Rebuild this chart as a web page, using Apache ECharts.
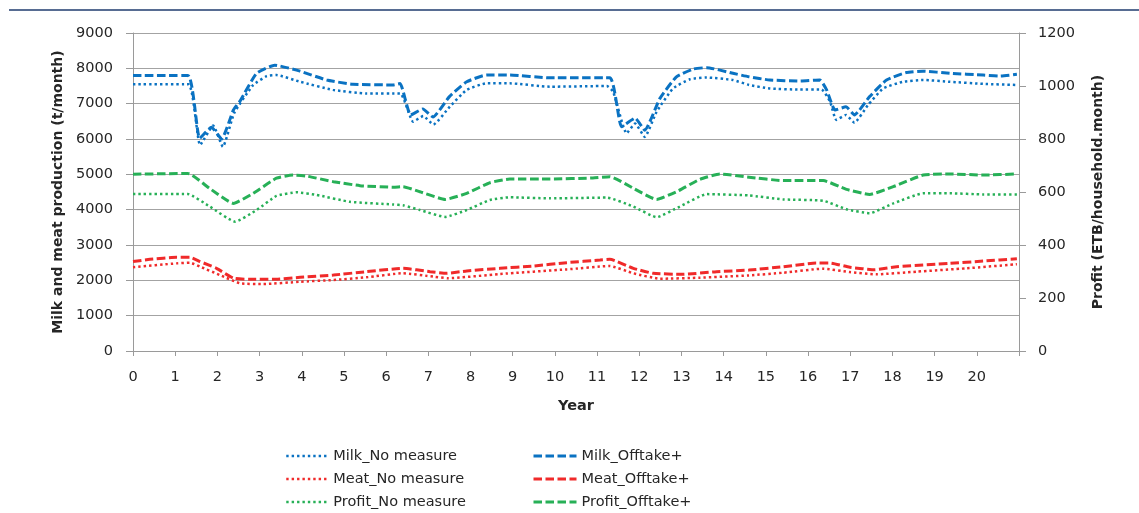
<!DOCTYPE html>
<html>
<head>
<meta charset="utf-8">
<script src="https://cdn.jsdelivr.net/npm/echarts@6/dist/echarts.min.js"></script>
<style>
  html, body { margin: 0; padding: 0; background: #ffffff; }
  #chart { width: 1139px; height: 513px; }
</style>
</head>
<body>
<div id="chart"></div>
<script>
// Milk and meat production (t/month) and household profit (ETB/household.month) by year

const yearTicks = [0, 21];
const productionTicks = [0, 9000, 1000];
const profitTicks = [0, 1200, 200];

// [year, t/month]
const milkNoMeasure = [
  [0,7550],[1.31,7550],[1.59,5830],[1.9,6380],[2.13,5780],[2.4,6740],[2.85,7530],[3.17,7780],
  [3.4,7810],[3.96,7620],[4.74,7390],[5.53,7290],[6.33,7290],[6.64,6490],[6.88,6650],[7.12,6410],
  [7.51,6915],[7.91,7390],[8.38,7575],[8.93,7575],[9.88,7480],[11.23,7500],[11.38,7340],[11.7,6160],
  [11.9,6440],[12.13,6060],[12.41,6770],[12.8,7430],[13.2,7690],[13.6,7740],[14.22,7670],[14.6,7530],
  [15.09,7430],[15.8,7400],[16.32,7400],[16.52,7060],[16.67,6540],[16.9,6680],[17.1,6460],[17.42,6960],
  [17.78,7430],[18.25,7620],[18.73,7670],[19.36,7620],[20.15,7560],[20.95,7530]
];
const milkOfftake = [
  [0,7800],[1.3,7800],[1.58,6020],[1.86,6330],[2.1,6000],[2.38,6820],[2.54,7080],[2.93,7860],
  [3.36,8090],[3.96,7920],[4.59,7670],[5.21,7550],[6.16,7530],[6.33,7570],[6.58,6680],[6.87,6850],
  [7.11,6620],[7.5,7200],[7.91,7620],[8.38,7810],[8.93,7810],[9.88,7730],[11.3,7730],[11.58,6350],
  [11.9,6590],[12.13,6250],[12.49,7150],[12.88,7760],[13.28,7980],[13.6,8020],[14.22,7860],[14.6,7760],
  [15.09,7670],[15.8,7640],[16.28,7670],[16.44,7390],[16.64,6820],[16.9,6910],[17.1,6680],[17.46,7200],
  [17.86,7670],[18.33,7880],[18.73,7920],[19.36,7860],[20.15,7810],[20.55,7780],[20.95,7830]
];
const meatNoMeasure = [
  [0,2370],[1.03,2480],[1.35,2500],[1.59,2385],[2.06,2150],[2.54,1915],[3.09,1895],[3.96,1960],
  [4.75,2010],[5.53,2085],[6.4,2200],[7.12,2105],[7.47,2060],[8.7,2180],[10.28,2310],[11.3,2405],
  [11.86,2200],[12.49,2045],[13.44,2075],[14.6,2140],[15.41,2215],[16.36,2330],[16.99,2235],[17.62,2170],
  [18.57,2245],[19.75,2340],[20.95,2455]
];
const meatOfftake = [
  [0,2530],[0.4,2595],[1.03,2650],[1.35,2650],[1.59,2530],[1.98,2340],[2.38,2060],[2.77,2030],
  [3.32,2030],[3.96,2085],[4.75,2150],[5.53,2245],[6.4,2340],[7.04,2245],[7.43,2200],[7.91,2265],
  [8.7,2340],[9.49,2405],[10.28,2500],[11.07,2575],[11.3,2595],[11.86,2340],[12.33,2200],[13.04,2170],
  [13.83,2245],[14.6,2290],[15.41,2385],[16.2,2490],[16.52,2490],[16.99,2370],[17.58,2300],[18.1,2385],
  [19.36,2480],[20.15,2545],[20.95,2610]
];
// [year, ETB/household.month]
const profitNoMeasure = [
  [0,592],[1.3,592],[1.82,545],[2.42,488],[2.93,532],[3.4,585],[3.88,599],[4.35,589],
  [5.14,563],[6.17,553],[6.4,550],[6.8,532],[7.4,506],[7.91,532],[8.46,570],[8.93,580],
  [9.88,576],[11.23,579],[11.86,545],[12.41,505],[12.96,545],[13.6,592],[14.6,587],[15.41,572],
  [16.36,567],[16.91,535],[17.46,520],[18.02,557],[18.73,595],[19.36,595],[20.15,591],[20.95,591]
];
const profitOfftake = [
  [0,667],[1.3,670],[1.82,613],[2.38,557],[2.85,595],[3.4,652],[3.8,664],[4.12,660],
  [4.75,639],[5.38,624],[6.17,618],[6.4,620],[6.8,601],[7.4,572],[7.91,595],[8.46,635],
  [8.93,649],[9.88,649],[10.9,653],[11.3,658],[11.86,614],[12.41,572],[12.88,601],[13.44,648],
  [13.91,668],[14.6,656],[15.41,643],[16.36,643],[16.91,610],[17.46,591],[18.02,620],[18.73,664],
  [19.36,668],[20.15,664],[20.95,668]
];

const FONT = '"DejaVu Sans", sans-serif';
const AXIS_GREY = '#9a9a9a';
const TEXT = '#262626';
const BLUE = '#0a72c2';
const RED = '#f02a2a';
const GREEN = '#27b057';
const DOTTED = [2.4, 3];
const DASHED = [8.5, 3.5];

function line(name, data, color, dash, width, yIndex) {
  return {
    name: name,
    type: 'line',
    yAxisIndex: yIndex,
    data: data,
    smooth: 0.15,
    symbol: 'none',
    lineStyle: { color: color, width: width, type: dash },
    itemStyle: { color: color },
    emphasis: { disabled: true },
    animation: false
  };
}

const plainNumber = function (v) { return String(v); };

const chart = echarts.init(document.getElementById('chart'), null, { renderer: 'canvas' });

// legend keys show only the line pattern, no marker
const legendCommon = {
  orient: 'vertical',
  top: 442,
  height: 90,
  itemHeight: 10,
  itemGap: 5,
  selectedMode: false,
  itemStyle: { opacity: 0 },
  textStyle: { fontFamily: FONT, fontSize: 14.5, color: TEXT, lineHeight: 18 }
};

chart.setOption({
  animation: false,
  backgroundColor: '#ffffff',
  graphic: [{
    type: 'line',
    shape: { x1: 9, y1: 10, x2: 1139, y2: 10 },
    style: { stroke: '#1f3b6e', lineWidth: 1.5 }
  }],
  grid: { left: 133, right: 120, top: 33, bottom: 162, containLabel: false },
  legend: [
    Object.assign({}, legendCommon, {
      left: 280, itemWidth: 42,
      lineStyle: { width: 2.5 },
      data: ['Milk_No measure', 'Meat_No measure', 'Profit_No measure']
    }),
    Object.assign({}, legendCommon, {
      left: 527, itemWidth: 43,
      lineStyle: { width: 3 },
      data: ['Milk_Offtake+', 'Meat_Offtake+', 'Profit_Offtake+']
    })
  ],
  xAxis: {
    type: 'value',
    min: yearTicks[0], max: yearTicks[1], interval: 1,
    name: 'Year', nameLocation: 'middle', nameGap: 48,
    nameTextStyle: { fontFamily: FONT, fontSize: 14.5, fontWeight: 'bold', color: TEXT },
    axisLine: { show: true, lineStyle: { color: AXIS_GREY, width: 1 } },
    axisTick: { show: true, length: 5, lineStyle: { color: AXIS_GREY } },
    axisLabel: {
      margin: 19, fontFamily: FONT, fontSize: 14.5, color: TEXT,
      formatter: function (v) { return v >= yearTicks[1] ? '' : String(v); }
    },
    splitLine: { show: false }
  },
  yAxis: [{
    type: 'value', position: 'left',
    min: productionTicks[0], max: productionTicks[1], interval: productionTicks[2],
    name: 'Milk and meat production (t/month)', nameLocation: 'middle', nameGap: 67,
    nameTextStyle: { fontFamily: FONT, fontSize: 14, fontWeight: 'bold', color: TEXT },
    axisLine: { show: true, lineStyle: { color: AXIS_GREY, width: 1 } },
    axisTick: { show: true, length: 7, lineStyle: { color: AXIS_GREY } },
    axisLabel: { margin: 20, fontFamily: FONT, fontSize: 14.5, color: TEXT, formatter: plainNumber },
    splitLine: { show: true, lineStyle: { color: '#a3a3a3', width: 1 } }
  }, {
    type: 'value', position: 'right',
    min: profitTicks[0], max: profitTicks[1], interval: profitTicks[2],
    name: 'Profit (ETB/household.month)', nameLocation: 'middle', nameGap: 72,
    nameTextStyle: { fontFamily: FONT, fontSize: 14, fontWeight: 'bold', color: TEXT },
    axisLine: { show: true, lineStyle: { color: AXIS_GREY, width: 1 } },
    axisTick: { show: true, length: 7, lineStyle: { color: AXIS_GREY } },
    axisLabel: { margin: 19, fontFamily: FONT, fontSize: 14.5, color: TEXT, formatter: plainNumber },
    splitLine: { show: false }
  }],
  series: [
    line('Milk_No measure', milkNoMeasure, BLUE, DOTTED, 2.5, 0),
    line('Meat_No measure', meatNoMeasure, RED, DOTTED, 2.5, 0),
    line('Profit_No measure', profitNoMeasure, GREEN, DOTTED, 2.5, 1),
    line('Milk_Offtake+', milkOfftake, BLUE, DASHED, 3, 0),
    line('Meat_Offtake+', meatOfftake, RED, DASHED, 3, 0),
    line('Profit_Offtake+', profitOfftake, GREEN, DASHED, 3, 1)
  ]
});
</script>
</body>
</html>
